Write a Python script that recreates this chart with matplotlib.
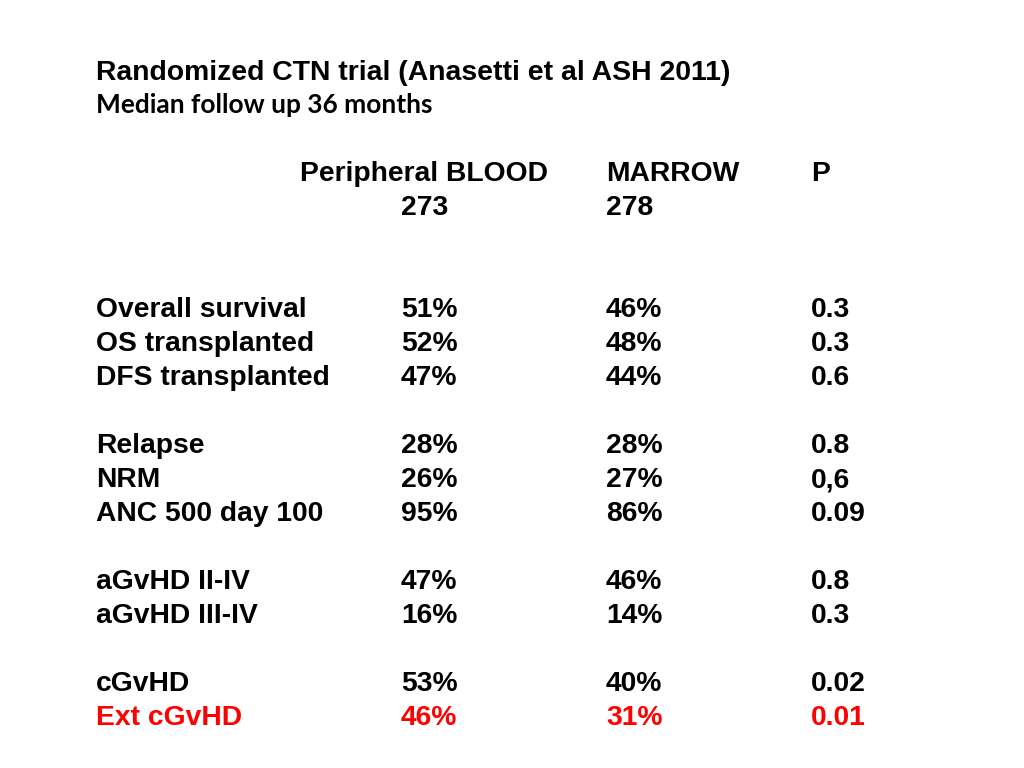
import matplotlib
matplotlib.use('Agg')
import matplotlib.pyplot as plt

title = 'Randomized CTN trial (Anasetti et al ASH 2011)'
subtitle = 'Median follow up 36 months'
headers = ['Peripheral BLOOD', 'MARROW', 'P']
counts = ['273', '278']

# rows grouped into blocks, separated by blank lines
blocks = [
    [('Overall survival', '51%', '46%', '0.3'),
     ('OS transplanted', '52%', '48%', '0.3'),
     ('DFS transplanted', '47%', '44%', '0.6')],
    [('Relapse', '28%', '28%', '0.8'),
     ('NRM', '26%', '27%', '0,6'),
     ('ANC 500 day 100', '95%', '86%', '0.09')],
    [('aGvHD II-IV', '47%', '46%', '0.8'),
     ('aGvHD III-IV', '16%', '14%', '0.3')],
    [('cGvHD', '53%', '40%', '0.02'),
     ('Ext cGvHD', '46%', '31%', '0.01')],
]
highlight = 'Ext cGvHD'

W, H = 1024, 768
fig = plt.figure(figsize=(W / 100, H / 100), dpi=100)
fig.patch.set_facecolor('white')

def put(x, y, s, size=20.3, color='black', family='Liberation Sans'):
    fig.text(x / W, 1 - (y + 3) / H, s, fontsize=size, color=color, fontweight='bold',
             family=family, ha='left', va='center')

cols = [96, 401, 606, 811]
step = 34

put(96, 70, title, size=20.4)
put(96, 102, subtitle, size=18.9, family='Lato')

put(300, 171, headers[0])
put(cols[2], 171, headers[1])
put(cols[3], 171, headers[2])
put(cols[1], 205, counts[0])
put(cols[2], 205, counts[1])

y = 307
for blk in blocks:
    for row in blk:
        c = 'red' if row[0] == highlight else 'black'
        for x, s in zip(cols, row):
            put(x, y, s, color=c)
        y += step
    y += step

fig.savefig('out.png', dpi=100)
